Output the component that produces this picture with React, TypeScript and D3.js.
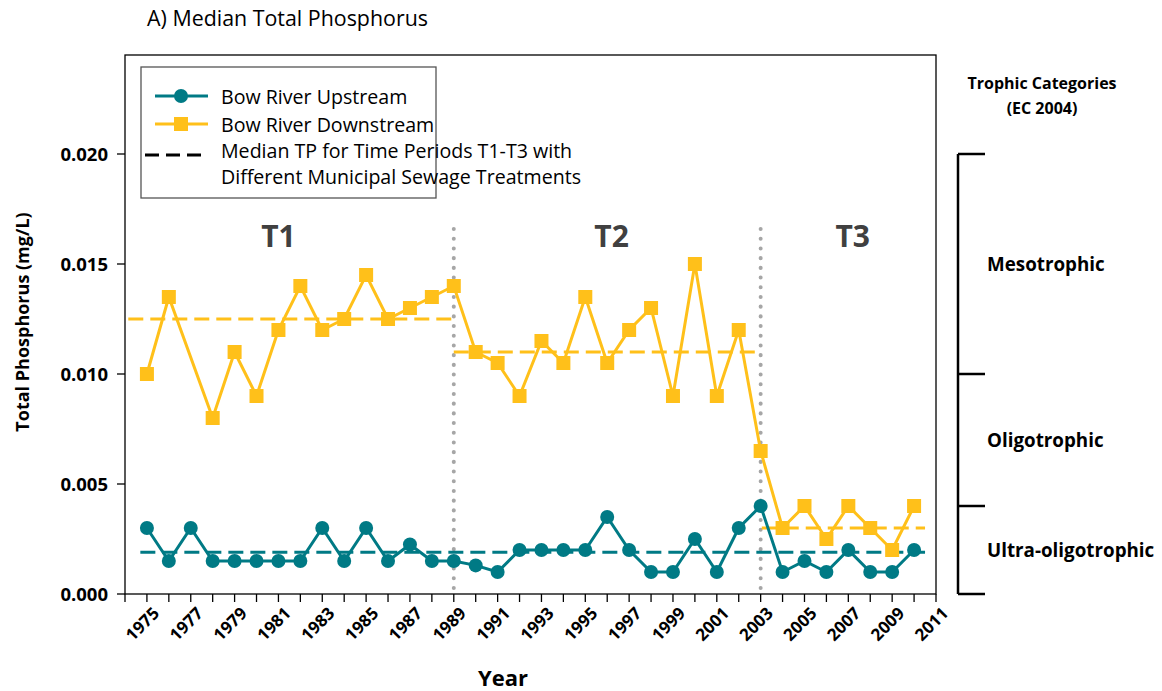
import React from "react";
import * as d3 from "d3";

const years = [1975,1976,1977,1978,1979,1980,1981,1982,1983,1984,1985,1986,1987,1988,1989,1990,1991,1992,1993,1994,1995,1996,1997,1998,1999,2000,2001,2002,2003,2004,2005,2006,2007,2008,2009,2010];
const upstream = [0.003,0.0015,0.003,0.0015,0.0015,0.0015,0.0015,0.0015,0.003,0.0015,0.003,0.0015,0.00225,0.0015,0.0015,0.0013,0.001,0.002,0.002,0.002,0.002,0.0035,0.002,0.001,0.001,0.0025,0.001,0.003,0.004,0.001,0.0015,0.001,0.002,0.001,0.001,0.002];
const downstream: (number | null)[] = [0.010,0.0135,null,0.008,0.011,0.009,0.012,0.014,0.012,0.0125,0.0145,0.0125,0.013,0.0135,0.014,0.011,0.0105,0.009,0.0115,0.0105,0.0135,0.0105,0.012,0.013,0.009,0.015,0.009,0.012,0.0065,0.003,0.004,0.0025,0.004,0.003,0.002,0.004];

const downMedians = [
  { start: 1974.15, end: 1989, value: 0.0125 },
  { start: 1989, end: 2003, value: 0.011 },
  { start: 2003.05, end: 2010.5, value: 0.003 },
];
const upMedians = [{ start: 1974.7, end: 2010.5, value: 0.0019 }];

const periodLabels = [
  { label: "T1", year: 1981 },
  { label: "T2", year: 1996.2 },
  { label: "T3", year: 2007.2 },
];
const periodBreaks = [1989, 2003];

const yTicks = [0, 0.005, 0.01, 0.015, 0.02];
const xTickYears = [1974,1975,1976,1977,1978,1979,1980,1981,1982,1983,1984,1985,1986,1987,1988,1989,1990,1991,1992,1993,1994,1995,1996,1997,1998,1999,2000,2001,2002,2003,2004,2005,2006,2007,2008,2009,2010,2011];
const xLabelYears = [1975,1977,1979,1981,1983,1985,1987,1989,1991,1993,1995,1997,1999,2001,2003,2005,2007,2009,2011];

const trophicBounds = [0, 0.004, 0.01, 0.02];
const trophicLabels = [
  { label: "Mesotrophic", value: 0.015 },
  { label: "Oligotrophic", value: 0.007 },
  { label: "Ultra-oligotrophic", value: 0.002 },
];

const TEAL = "#007A85";
const GOLD = "#FFC01A";
const FONT = "'Open Sans', sans-serif";

export default function App() {
  const W = 1162, H = 691;
  const left = 125, right = 936, top = 55, bottom = 594;
  const x = d3.scaleLinear().domain([1974, 2011]).range([left, right]);
  const y = d3.scaleLinear().domain([0, 0.02]).range([bottom, 154]);

  const upPts = years.map((yr, i) => ({ yr, v: upstream[i] }));
  const downPts = years
    .map((yr, i) => ({ yr, v: downstream[i] }))
    .filter((d) => d.v !== null) as { yr: number; v: number }[];

  const line = d3
    .line<{ yr: number; v: number }>()
    .x((d) => x(d.yr))
    .y((d) => y(d.v));

  const sq = 14;
  const bx = 958;
  const legendSize = 19.6;

  return (
    <svg
      width={W}
      height={H}
      style={{ position: "absolute", left: 0, top: 0, background: "#fff" }}
      fontFamily={FONT}
    >
      <text x={147} y={26} fontSize={21.4} fill="#000">A) Median Total Phosphorus</text>

      {/* plot frame */}
      <rect x={left} y={top} width={right - left} height={bottom - top} fill="none" stroke="#000" strokeWidth={1.3} />

      {/* dotted period breaks */}
      {periodBreaks.map((b) => (
        <line key={b} x1={x(b)} x2={x(b)} y1={229} y2={bottom} stroke="#A6A6A6" strokeWidth={4} strokeLinecap="round" strokeDasharray="0.1 9.6" />
      ))}

      {/* period labels */}
      {periodLabels.map((p) => (
        <text key={p.label} x={x(p.year)} y={247} textAnchor="middle" fontSize={30} fontWeight="bold" fill="#404040">{p.label}</text>
      ))}

      {/* medians */}
      {downMedians.map((m, i) => (
        <line key={"d" + i} x1={x(m.start)} x2={x(m.end)} y1={y(m.value)} y2={y(m.value)} stroke={GOLD} strokeWidth={3} strokeDasharray="15 7" />
      ))}
      {upMedians.map((m, i) => (
        <line key={"u" + i} x1={x(m.start)} x2={x(m.end)} y1={y(m.value)} y2={y(m.value)} stroke={TEAL} strokeWidth={3} strokeDasharray="15 7" />
      ))}

      {/* series lines */}
      <path d={line(downPts) || ""} fill="none" stroke={GOLD} strokeWidth={3} />
      <path d={line(upPts) || ""} fill="none" stroke={TEAL} strokeWidth={3} />
      {downPts.map((d) => (
        <rect key={"ds" + d.yr} x={x(d.yr) - sq / 2} y={y(d.v) - sq / 2} width={sq} height={sq} fill={GOLD} />
      ))}
      {upPts.map((d) => (
        <circle key={"uc" + d.yr} cx={x(d.yr)} cy={y(d.v)} r={7} fill={TEAL} />
      ))}

      {/* y axis */}
      {yTicks.map((t) => (
        <g key={t}>
          <line x1={left - 8} x2={left} y1={y(t)} y2={y(t)} stroke="#000" strokeWidth={1.3} />
          <text x={108} y={y(t) + 6.5} textAnchor="end" fontSize={18.5} fontWeight="bold">{t.toFixed(3)}</text>
        </g>
      ))}
      <text transform={`translate(29,322) rotate(-90)`} textAnchor="middle" fontSize={18} fontWeight="bold">Total Phosphorus (mg/L)</text>

      {/* x axis */}
      {xTickYears.map((t) => (
        <line key={t} x1={x(t)} x2={x(t)} y1={bottom} y2={bottom + 8} stroke="#000" strokeWidth={1.3} />
      ))}
      {xLabelYears.map((t) => (
        <text key={t} transform={`translate(${x(t) + 5},${bottom + 12}) rotate(-45)`} textAnchor="end" dy="0.7em" fontSize={17} fontWeight="bold">{t}</text>
      ))}
      <text x={503} y={686} textAnchor="middle" fontSize={22} fontWeight="bold">Year</text>

      {/* legend */}
      <rect x={141} y={67} width={295} height={131} fill="#fff" stroke="#555" strokeWidth={1.3} />
      <line x1={155} x2={208} y1={96} y2={96} stroke={TEAL} strokeWidth={3} />
      <circle cx={181} cy={96} r={7} fill={TEAL} />
      <line x1={155} x2={208} y1={124} y2={124} stroke={GOLD} strokeWidth={3} />
      <rect x={181 - sq / 2} y={124 - sq / 2} width={sq} height={sq} fill={GOLD} />
      <line x1={145} x2={208} y1={155} y2={155} stroke="#000" strokeWidth={3} strokeDasharray="14 7" />
      <text x={221} y={104} fontSize={legendSize}>Bow River Upstream</text>
      <text x={221} y={132} fontSize={legendSize}>Bow River Downstream</text>
      <text x={221} y={158} fontSize={legendSize}>Median TP for Time Periods T1-T3 with</text>
      <text x={221} y={184} fontSize={legendSize}>Different Municipal Sewage Treatments</text>

      {/* trophic categories */}
      <text x={1042} y={89} textAnchor="middle" fontSize={16} fontWeight="bold">Trophic Categories</text>
      <text x={1042} y={114} textAnchor="middle" fontSize={16} fontWeight="bold">(EC 2004)</text>
      <line x1={bx} x2={bx} y1={y(0.02)} y2={y(0)} stroke="#000" strokeWidth={2.5} />
      {trophicBounds.map((b) => (
        <line key={b} x1={bx} x2={bx + 27} y1={y(b)} y2={y(b)} stroke="#000" strokeWidth={2.5} />
      ))}
      {trophicLabels.map((t) => (
        <text key={t.label} x={987} y={y(t.value) + 6.5} fontSize={18.8} fontWeight="bold">{t.label}</text>
      ))}
    </svg>
  );
}
